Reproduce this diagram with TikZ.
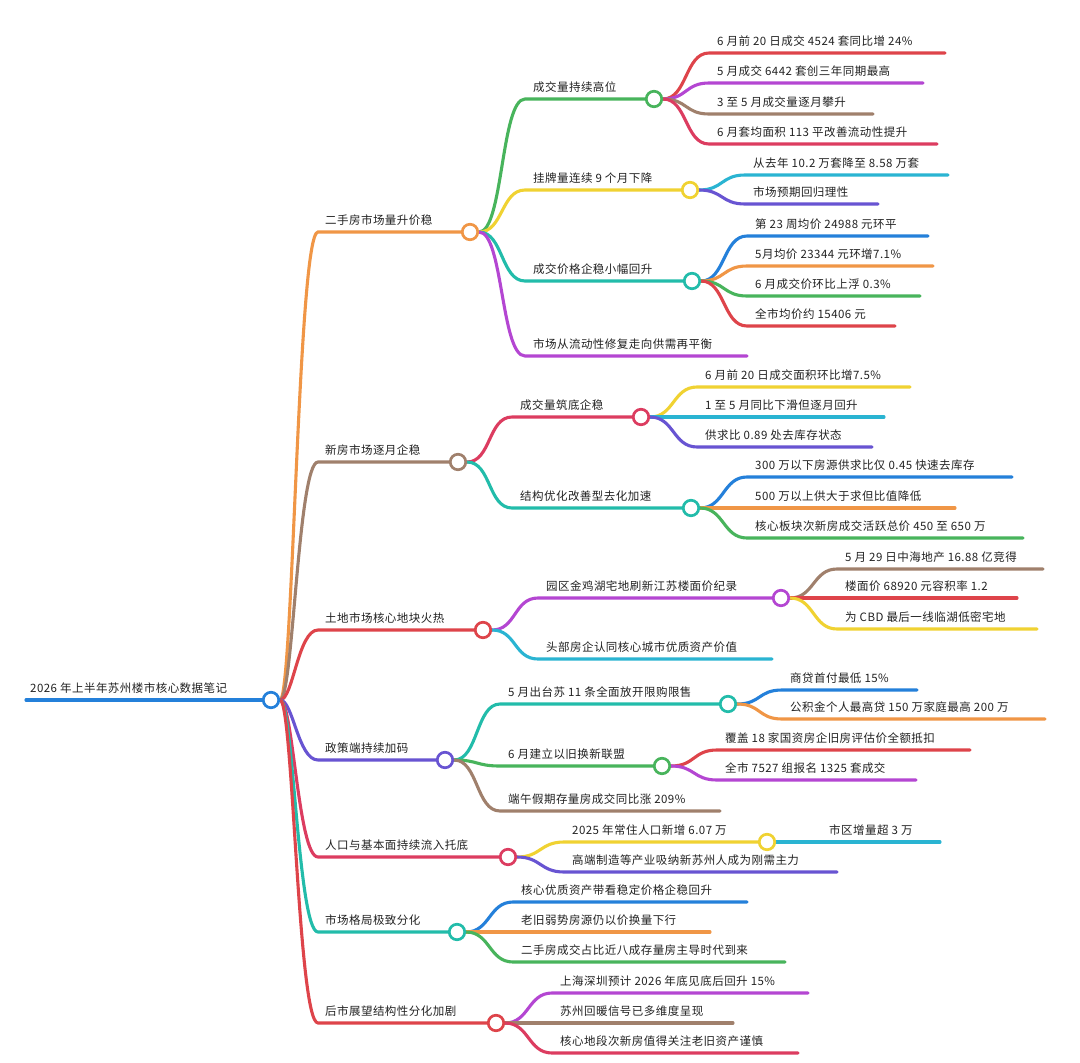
\documentclass[tikz,border=0pt]{standalone}
\usepackage{fontspec}
\newfontfamily\cjk[LetterSpace=4]{Noto Sans CJK SC}
\pgfdeclarelayer{back}
\pgfdeclarelayer{bg}
\pgfsetlayers{back,bg,main}
\definecolor{cblue}{RGB}{36,128,218}
\definecolor{corange}{RGB}{240,150,70}
\definecolor{cbrown}{RGB}{160,128,108}
\definecolor{cred}{RGB}{222,68,74}
\definecolor{ccrimson}{RGB}{220,60,96}
\definecolor{cgreen}{RGB}{72,180,92}
\definecolor{cyellow}{RGB}{240,210,50}
\definecolor{cteal}{RGB}{34,188,170}
\definecolor{ccyan}{RGB}{42,180,210}
\definecolor{cpurple}{RGB}{180,70,210}
\definecolor{cindigo}{RGB}{104,84,210}
\definecolor{txt}{RGB}{34,34,34}
% level-1 branch: id, colour, line y, circle x, text
\newcommand\mmtop[5]{%
  \coordinate (k#1) at (318,#3);
  \node[dot=#2] (n#1) at (#4,#3) {};
  \node[lbl] (t#1) at (325,{#3-8}) {#5};
  \begin{pgfonlayer}{bg}
    \draw[ln=#2] (root.east) .. controls +(13,0) and +(-20,0) .. (k#1) -- (n#1.west);
  \end{pgfonlayer}}
% branch with circle: parent, id, colour, text x, line y, circle x, text
\newcommand\mmmid[7]{%
  \coordinate (k#2) at ({#4-8},#5);
  \node[dot=#3] (n#2) at (#6,#5) {};
  \node[lbl] (t#2) at (#4,{#5-8}) {#7};
  \begin{pgfonlayer}{bg}
    \draw[ln=#3] (#1.east) .. controls +(24,0) and +(-24,0) .. (k#2) -- (n#2.west);
  \end{pgfonlayer}}
% leaf: parent, id, colour, text x, line y, end x, text
\newcommand\mmleaf[7]{%
  \coordinate (k#2) at ({#4-8},#5);
  \coordinate (e#2) at (#6,#5);
  \node[lbl] (t#2) at (#4,{#5-8}) {#7};
  \begin{pgfonlayer}{bg}
    \draw[ln=#3] (#1.east) .. controls +(24,0) and +(-24,0) .. (k#2) -- (e#2);
  \end{pgfonlayer}}
\begin{document}
\begin{tikzpicture}[x=1pt,y=-1pt,
  lbl/.style={font=\cjk\fontsize{11.5}{14}\selectfont, text=txt, inner sep=0pt, anchor=base west},
  dot/.style={circle, draw=#1, fill=white, line width=2.7pt, minimum size=15.5pt, inner sep=0pt},
  ln/.style={line width=3.1pt, line cap=round, draw=#1}]
\useasboundingbox (0,0) rectangle (1080,1063);
\begin{pgfonlayer}{back}
  \fill[white] (0,0) rectangle (1080,1063);
\end{pgfonlayer}

% root
\node[dot=cblue] (root) at (271,700) {};
\coordinate (r0) at (26,700);
\node[lbl] (troot) at (30,692) {2026 年上半年苏州楼市核心数据笔记};
\begin{pgfonlayer}{bg}
  \draw[ln=cblue] (r0) -- (root.west);
\end{pgfonlayer}

% level 1
\mmtop{A}{corange}{232}{470}{二手房市场量升价稳}
\mmtop{B}{cbrown}{462}{458}{新房市场逐月企稳}
\mmtop{C}{cred}{630}{483}{土地市场核心地块火热}
\mmtop{D}{cindigo}{760}{445}{政策端持续加码}
\mmtop{E}{ccrimson}{857}{508}{人口与基本面持续流入托底}
\mmtop{F}{cteal}{932}{457}{市场格局极致分化}
\mmtop{G}{cred}{1023}{496}{后市展望结构性分化加剧}

% A
\mmmid{nA}{A1}{cgreen}{533}{99}{654}{成交量持续高位}
\mmmid{nA}{A2}{cyellow}{533}{190}{690}{挂牌量连续 9 个月下降}
\mmmid{nA}{A3}{cteal}{533}{281}{692}{成交价格企稳小幅回升}
\mmleaf{nA}{A4}{cpurple}{533}{356}{747}{市场从流动性修复走向供需再平衡}
\mmleaf{nA1}{A1a}{cred}{717}{53}{945}{6 月前 20 日成交 4524 套同比增 24\%}
\mmleaf{nA1}{A1b}{cpurple}{717}{83}{923}{5 月成交 6442 套创三年同期最高}
\mmleaf{nA1}{A1c}{cbrown}{717}{114}{873}{3 至 5 月成交量逐月攀升}
\mmleaf{nA1}{A1d}{ccrimson}{717}{144}{937}{6 月套均面积 113 平改善流动性提升}
\mmleaf{nA2}{A2a}{ccyan}{753}{175}{948}{从去年 10.2 万套降至 8.58 万套}
\mmleaf{nA2}{A2b}{cindigo}{753}{204}{878}{市场预期回归理性}
\mmleaf{nA3}{A3a}{cblue}{755}{236}{928}{第 23 周均价 24988 元环平}
\mmleaf{nA3}{A3b}{corange}{755}{266}{933}{5月均价 23344 元环增7.1\%}
\mmleaf{nA3}{A3c}{cgreen}{755}{296}{920}{6 月成交价环比上浮 0.3\%}
\mmleaf{nA3}{A3d}{cred}{755}{326}{895}{全市均价约 15406 元}

% B
\mmmid{nB}{B1}{ccrimson}{520}{417}{641}{成交量筑底企稳}
\mmmid{nB}{B2}{cteal}{520}{508}{691}{结构优化改善型去化加速}
\mmleaf{nB1}{B1a}{cyellow}{705}{387}{910}{6 月前 20 日成交面积环比增7.5\%}
\mmleaf{nB1}{B1b}{ccyan}{705}{417}{884}{1 至 5 月同比下滑但逐月回升}
\mmleaf{nB1}{B1c}{cindigo}{705}{447}{872}{供求比 0.89 处去库存状态}
\mmleaf{nB2}{B2a}{cblue}{755}{477}{1012}{300 万以下房源供求比仅 0.45 快速去库存}
\mmleaf{nB2}{B2b}{corange}{755}{508}{955}{500 万以上供大于求但比值降低}
\mmleaf{nB2}{B2c}{cgreen}{755}{538}{1023}{核心板块次新房成交活跃总价 450 至 650 万}

% C
\mmmid{nC}{C1}{cpurple}{546}{598}{781}{园区金鸡湖宅地刷新江苏楼面价纪录}
\mmleaf{nC}{C2}{ccyan}{546}{659}{772}{头部房企认同核心城市优质资产价值}
\mmleaf{nC1}{C1a}{cbrown}{845}{569}{1043}{5 月 29 日中海地产 16.88 亿竞得}
\mmleaf{nC1}{C1b}{cred}{845}{598}{1017}{楼面价 68920 元容积率 1.2}
\mmleaf{nC1}{C1c}{cyellow}{845}{629}{1037}{为 CBD 最后一线临湖低密宅地}

% D
\mmmid{nD}{D1}{cteal}{508}{704}{728}{5 月出台苏 11 条全面放开限购限售}
\mmmid{nD}{D2}{cgreen}{508}{766}{662}{6 月建立以旧换新联盟}
\mmleaf{nD}{D3}{cbrown}{508}{811}{720}{端午假期存量房成交同比涨 209\%}
\mmleaf{nD1}{D1a}{cblue}{790}{690}{917}{商贷首付最低 15\%}
\mmleaf{nD1}{D1b}{corange}{790}{719}{1045}{公积金个人最高贷 150 万家庭最高 200 万}
\mmleaf{nD2}{D2a}{cred}{725}{750}{970}{覆盖 18 家国资房企旧房评估价全额抵扣}
\mmleaf{nD2}{D2b}{cpurple}{725}{780}{916}{全市 7527 组报名 1325 套成交}

% E
\mmmid{nE}{E1}{cyellow}{572}{842}{767}{2025 年常住人口新增 6.07 万}
\mmleaf{nE}{E2}{cindigo}{572}{872}{837}{高端制造等产业吸纳新苏州人成为刚需主力}
\mmleaf{nE1}{E1a}{ccyan}{829}{842}{940}{市区增量超 3 万}

% F
\mmleaf{nF}{F1}{cblue}{521}{902}{747}{核心优质资产带看稳定价格企稳回升}
\mmleaf{nF}{F2}{corange}{521}{932}{710}{老旧弱势房源仍以价换量下行}
\mmleaf{nF}{F3}{cgreen}{521}{962}{785}{二手房成交占比近八成存量房主导时代到来}

% G
\mmleaf{nG}{G1}{cpurple}{560}{993}{808}{上海深圳预计 2026 年底见底后回升 15\%}
\mmleaf{nG}{G2}{cbrown}{560}{1023}{733}{苏州回暖信号已多维度呈现}
\mmleaf{nG}{G3}{ccrimson}{560}{1053}{798}{核心地段次新房值得关注老旧资产谨慎}
\end{tikzpicture}
\end{document}
